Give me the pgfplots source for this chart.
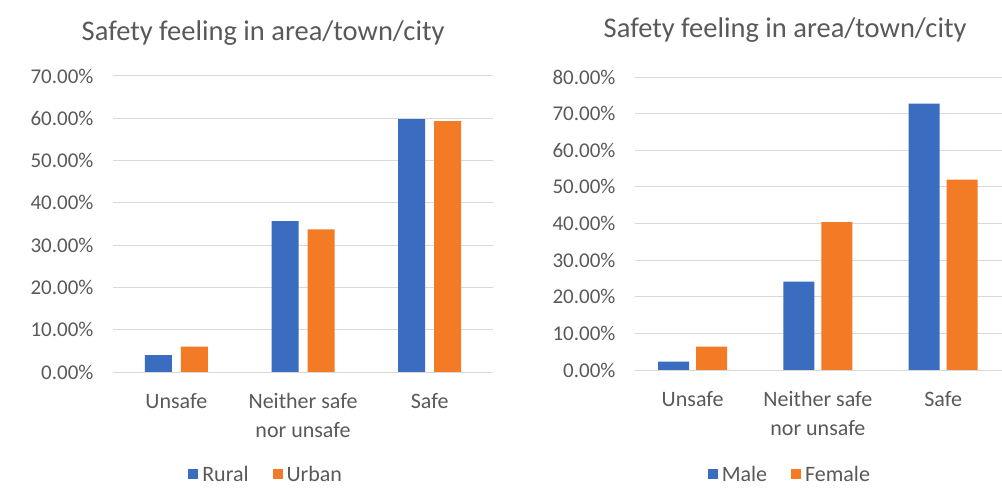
\documentclass[border=0pt]{standalone}
\usepackage{fontspec}
\setmainfont{Carlito}
\usepackage{pgfplots}
\pgfplotsset{compat=1.18}
\definecolor{cblue}{HTML}{3A6DC0}
\definecolor{corange}{HTML}{F47B25}
\definecolor{txt}{HTML}{595959}
\definecolor{gridc}{HTML}{D9D9D9}
\pgfplotsset{
  common/.style={
    scale only axis, anchor=south west,
    ymin=0, xtick={0,1,2},
    xticklabels={Unsafe,{Neither safe\\nor unsafe},Safe},
    xticklabel style={align=center, font=\fontsize{22bp}{29bp}\selectfont, text=txt, yshift=-18bp},
    yticklabel style={font=\fontsize{21bp}{25bp}\selectfont, text=txt, xshift=-16bp},
    yticklabel={\pgfmathprintnumber[fixed,fixed zerofill,precision=2,assume math mode=true]{\tick}\%},
    ytick distance=10,
    ymajorgrids, grid style={gridc, line width=1bp},
    axis x line*=bottom, axis y line*=left,
    x axis line style={gridc, line width=1bp, -},
    y axis line style={draw=none},
    major tick length=0pt,
    tick style={draw=none},
    title style={font=\fontsize{28.5bp}{33bp}\selectfont, text=txt, anchor=center},
    legend style={draw=none, fill=none, legend columns=-1, anchor=center,
      font=\fontsize{22bp}{26bp}\selectfont, text=txt,
      /tikz/every even column/.append style={column sep=22bp},
      /tikz/every odd column/.append style={column sep=2bp}},
  },
  sqlegend/.style={legend image code/.code={\fill[##1] (0bp,-5bp) rectangle (10bp,5bp);}},
}
\begin{document}
\begin{tikzpicture}
\useasboundingbox (0bp,0bp) rectangle (1002bp,488bp);
\begin{axis}[common, at={(113bp,116bp)}, width=380bp, height=296bp,
  xmin=-0.5, xmax=2.5, ymax=70,
  ybar=9bp, bar width=27bp, sqlegend,
  title={Safety feeling in area/town/city},
  title style={at={(0.395,1.125)}},
  legend style={at={(0.403,-0.345)}}]
\addplot[fill=cblue, draw=none] coordinates {(0,4.0) (1,35.7) (2,59.8)};
\addplot[fill=corange, draw=none] coordinates {(0,6.0) (1,33.7) (2,59.3)};
\legend{Rural,Urban}
\end{axis}
\begin{axis}[common, at={(635bp,118bp)}, width=367bp, height=293bp,
  xmin=-0.46, xmax=2.47, ymax=80,
  ybar=7bp, bar width=31bp, sqlegend,
  title={Safety feeling in area/town/city},
  title style={at={(0.409,1.14)}},
  legend style={at={(0.422,-0.356)}}]
\addplot[fill=cblue, draw=none] coordinates {(0,2.3) (1,24.1) (2,72.7)};
\addplot[fill=corange, draw=none] coordinates {(0,6.4) (1,40.4) (2,52.0)};
\legend{Male,Female}
\end{axis}
\end{tikzpicture}
\end{document}
